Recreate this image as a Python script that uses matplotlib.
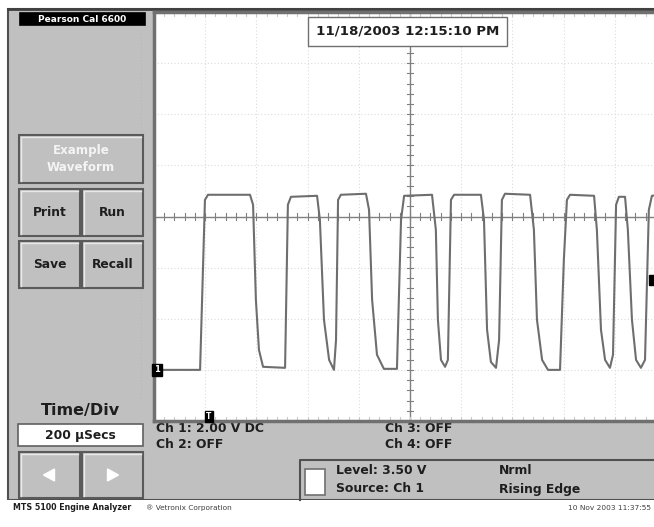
import matplotlib
matplotlib.use("Agg")
import matplotlib.pyplot as plt
from matplotlib.patches import Rectangle, Polygon

plt.rcParams['font.family'] = ['DejaVu Sans']

# trace: time in microseconds, voltage in volts
t_us = [0, 180, 199, 211, 375, 387, 398, 410, 426, 512, 523, 535, 637, 648, 664, 684, 703,
        711, 719, 730, 828, 840, 852, 871, 898, 949, 965, 977, 1086, 1101, 1109, 1121, 1137,
        1148, 1160, 1172, 1277, 1289, 1301, 1316, 1336, 1348, 1359, 1371, 1469, 1484, 1496,
        1516, 1539, 1586, 1601, 1613, 1625, 1719, 1730, 1746, 1762, 1781, 1793, 1805, 1816,
        1840, 1851, 1867, 1883, 1902, 1918, 1933, 1945, 1977]
volts = [0, 0, 6.65, 6.85, 6.85, 6.46, 2.74, 0.78, 0.12, 0.08, 6.46, 6.77, 6.81, 5.87, 1.96,
         0.39, 0, 1.17, 6.65, 6.85, 6.89, 6.26, 2.74, 0.59, 0.04, 0.04, 5.87, 6.81, 6.85, 5.48,
         1.96, 0.39, 0.12, 0.39, 6.65, 6.85, 6.85, 5.87, 1.57, 0.31, 0.08, 1.17, 6.65, 6.89,
         6.85, 5.48, 1.96, 0.39, 0, 0, 4.31, 6.65, 6.85, 6.81, 5.48, 1.57, 0.39, 0.08, 0.59,
         6.46, 6.77, 6.77, 5.48, 1.96, 0.39, 0.08, 0.39, 6.26, 6.81, 6.85]

time_per_div = 200      # µs
volts_per_div = 2.0
trig_level = 3.5
trig_time = 200

date_str = "11/18/2003 12:15:10 PM"
ch_labels = ["Ch 1: 2.00 V DC", "Ch 2: OFF", "Ch 3: OFF", "Ch 4: OFF"]
trig_labels = ["Level: 3.50 V", "Source: Ch 1", "Nrml", "Rising Edge"]

W, H = 654, 527
GRAY = "#c0c0c0"
TXT = "#1e1e1e"
fig = plt.figure(figsize=(W / 100, H / 100), dpi=100)
fig.patch.set_facecolor("white")

# background axes in screen pixels
bg = fig.add_axes([0, 0, 1, 1])
bg.set_xlim(0, W)
bg.set_ylim(H, 0)
bg.axis("off")


def box(x, y, w, h, fc=GRAY, ec="#6a6a6a", lw=1.2, z=1):
    bg.add_patch(Rectangle((x, y), w, h, facecolor=fc, edgecolor=ec, lw=lw, zorder=z))


def button(x, y, w, h):
    box(x, y, w, h, ec="#5a5a5a", lw=1.5, z=2)
    bg.plot([x + 2, x + 2, x + w - 2], [y + h - 2, y + 2, y + 2], color="#e8e8e8", lw=1, zorder=3)


def label(x, y, s, size=8.9, **kw):
    kw.setdefault("va", "center")
    kw.setdefault("color", TXT)
    kw.setdefault("fontweight", "bold")
    bg.text(x, y, s, fontsize=size, zorder=4, **kw)


# main gray panel
box(8, 9, W, 491, fc=GRAY, ec="#505050", lw=1.5)
bg.plot([8, W], [9, 9], color="#404040", lw=2, zorder=2)
bg.plot([141, 141], [30, 400], color="#b0b0b0", lw=0.6, ls=(0, (1, 3)), zorder=1.5)

# title tag
box(20, 13, 125, 12, fc="black", ec="black", z=3)
label(82, 19.5, "Pearson Cal 6600", size=6.5, color="white", ha="center")

# buttons
button(19, 135, 124, 48)
label(81, 159, "Example\nWaveform", size=8.6, color="#f4f4f4", ha="center", linespacing=1.4)
for (bx, by, lab) in [(19, 189, "Print"), (82, 189, "Run"), (19, 241, "Save"), (82, 241, "Recall")]:
    button(bx, by, 61, 47)
    label(bx + 30.5, by + 23.5, lab, size=8.8, ha="center")

label(80, 411, "Time/Div", size=11.5, ha="center")
box(18, 424, 125, 22, fc="white", ec="#606060", z=2)
label(80, 435, "200 µSecs", size=8.8, ha="center")
for bx, d in [(19, -1), (82, 1)]:
    button(bx, 452, 61, 46)
    cx, cy = bx + 30.5, 475
    bg.add_patch(Polygon([(cx + 6 * d, cy), (cx - 5 * d, cy - 6), (cx - 5 * d, cy + 6)],
                         closed=True, color="white", zorder=4))

# channel texts under the screen
label(156, 429, ch_labels[0])
label(156, 445, ch_labels[1])
label(385, 429, ch_labels[2])
label(385, 445, ch_labels[3])

# trigger panel
bg.plot([300, 300, W], [500, 460, 460], color="#505050", lw=1.5, zorder=3)
box(305, 469, 20, 26, fc="white", ec="#707070", z=3)
label(336, 471, trig_labels[0])
label(336, 489, trig_labels[1])
label(499, 471, trig_labels[2])
label(499, 489, trig_labels[3])

# status bar
box(0, 500, W, 27, fc="white", ec="white", lw=0, z=2)
label(13, 508, "MTS 5100 Engine Analyzer", size=5.7)
label(146, 508, "® Vetronix Corporation", size=5.3, fontweight="normal", color="#404040")
label(651, 508, "10 Nov 2003 11:37:55", size=5.3, fontweight="normal", color="#404040", ha="right")

# scope screen
x0, y0, pw, ph = 154, 12, 512, 409
ax = fig.add_axes([x0 / W, 1 - (y0 + ph) / H, pw / W, ph / H])
ax.set_facecolor("white")
ax.set_xlim(0, 10 * time_per_div)
ax.set_ylim(-volts_per_div, 7 * volts_per_div)
ax.set_xticks([])
ax.set_yticks([])
for s in ax.spines.values():
    s.set_color("#707070")
    s.set_linewidth(2.5)

for i in range(1, 10):
    ax.axvline(i * time_per_div, color="#dcdcdc", lw=0.8, ls=(0, (1, 2)), zorder=1)
for j in range(0, 7):
    ax.axhline(j * volts_per_div, color="#dcdcdc", lw=0.8, ls=(0, (1, 2)), zorder=1)

xc = 5 * time_per_div
yc = 3 * volts_per_div
ax.axvline(xc, color="#808080", lw=1, zorder=2)
ax.axhline(yc, color="#808080", lw=1, zorder=2)
for k in range(1, 50):
    tx = k * time_per_div / 5
    ax.plot([tx, tx], [yc - 0.12, yc + 0.12], color="#808080", lw=0.8, zorder=2)
    ax.plot([tx, tx], [7 * volts_per_div, 7 * volts_per_div - 0.15], color="#cccccc", lw=0.8, zorder=2)
    ax.plot([tx, tx], [-volts_per_div, -volts_per_div + 0.15], color="#cccccc", lw=0.8, zorder=2)
for k in range(1, 40):
    vy = -volts_per_div + k * volts_per_div / 5
    ax.plot([xc - 12, xc + 12], [vy, vy], color="#808080", lw=0.8, zorder=2)

ax.plot(t_us, volts, color="#6e6e6e", lw=1.5, zorder=3)

# markers: ground level, trigger time, trigger level
ax.text(0, 0, "1", color="white", fontsize=6, fontweight="bold", ha="left", va="center",
        bbox=dict(boxstyle="square,pad=0.2", fc="black", ec="black"), zorder=5)
ax.text(trig_time + 15, -volts_per_div, "T", color="white", fontsize=5.5, fontweight="bold",
        ha="center", va="bottom", bbox=dict(boxstyle="square,pad=0.15", fc="black", ec="black"),
        zorder=5)
ax.plot([1952], [trig_level], marker="s", ms=7, color="black", zorder=5, clip_on=False)

ax.text(xc - 10, 13.25, date_str, fontsize=9.6, fontweight="bold", ha="center", va="center",
        color=TXT, bbox=dict(boxstyle="square,pad=0.6", fc="white", ec="#707070", lw=1),
        zorder=6)

fig.savefig("out.png", dpi=100)
